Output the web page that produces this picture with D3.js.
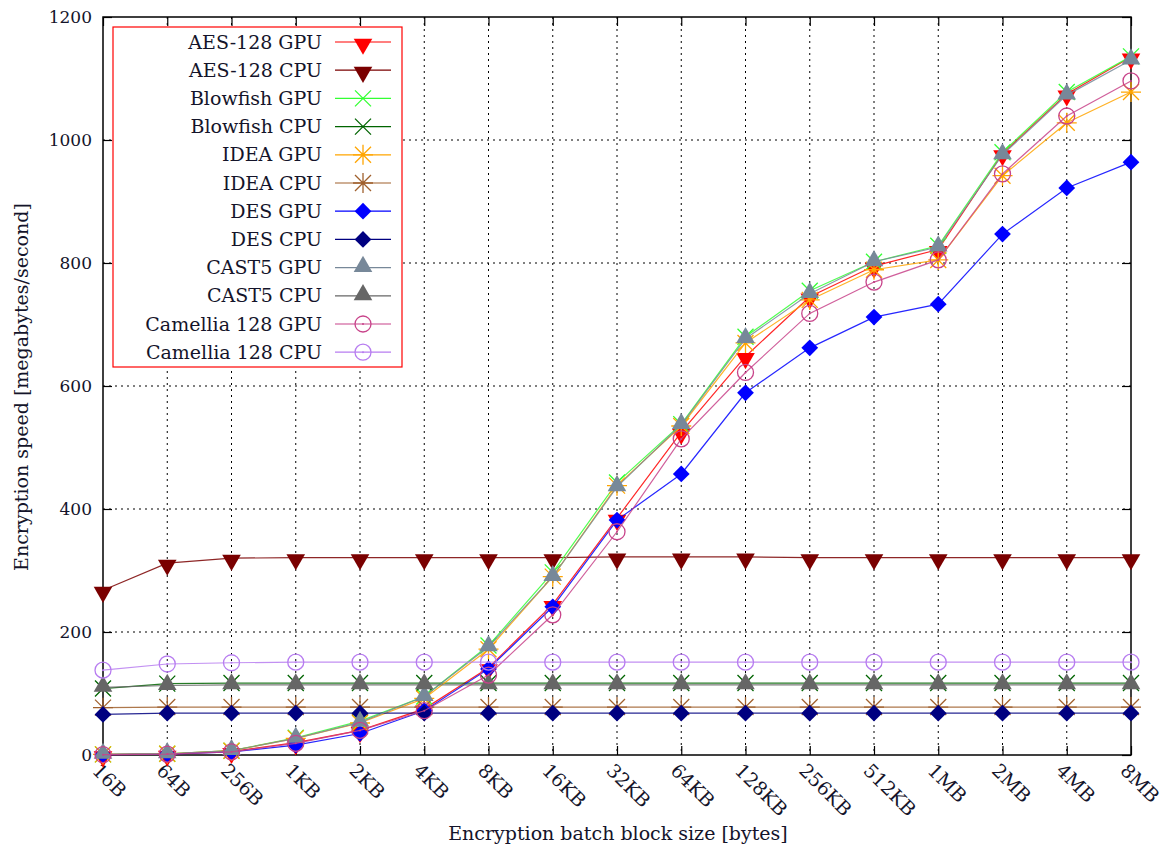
<!DOCTYPE html>
<meta charset="utf-8">
<style>
body { margin: 0; background: white; }
text { font-family: "DejaVu Serif", "Liberation Serif", serif; fill: #14142a; }
.grid line { stroke: black; stroke-width: 1; stroke-dasharray: 2,4; }
</style>
<body>
<script src="https://d3js.org/d3.v7.min.js"></script>
<script>
var width = 1174,
    height = 852;

// block sizes on the x axis
var sizes = ["16B","64B","256B","1KB","2KB","4KB","8KB","16KB","32KB","64KB","128KB","256KB","512KB","1MB","2MB","4MB","8MB"];
var yTicks = [0, 200, 400, 600, 800, 1000, 1200];

// speeds in megabytes/second
var aesGpu      = [0.5, 1.5, 6, 20, 40, 75, 142, 245, 385, 525, 648, 745, 795, 822, 978, 1075, 1135];
var aesCpu      = [268, 312, 320, 321, 321, 321, 321, 321, 322, 322, 322, 321, 321, 321, 321, 321, 321];
var blowfishGpu = [1, 2, 7, 28, 55, 95, 178, 297, 443, 538, 680, 755, 802, 828, 980, 1078, 1136];
var blowfishCpu = [108, 116, 117, 117, 117, 117, 117, 117, 117, 117, 117, 117, 117, 117, 117, 117, 117];
var ideaGpu     = [1, 2, 7, 27, 52, 92, 172, 290, 438, 535, 670, 740, 789, 805, 942, 1028, 1078];
var ideaCpu     = [77, 78, 78, 78, 78, 78, 78, 78, 78, 78, 78, 78, 78, 78, 78, 78, 78];
var desGpu      = [0.5, 1.5, 5, 16, 35, 72, 140, 241, 382, 457, 589, 662, 712, 733, 847, 922, 964];
var desCpu      = [66, 68, 68, 68, 68, 68, 68, 68, 68, 68, 68, 68, 68, 68, 68, 68, 68];
var cast5Gpu    = [1, 2, 7, 27, 53, 95, 176, 290, 436, 537, 677, 750, 802, 826, 976, 1073, 1130];
var cast5Cpu    = [110, 113, 114, 114, 114, 114, 114, 114, 114, 114, 114, 114, 114, 114, 114, 114, 114];
var camelliaGpu = [0.5, 1.5, 5, 19, 40, 72, 130, 228, 363, 514, 622, 718, 769, 805, 945, 1039, 1096];
var camelliaCpu = [138, 148, 150, 151, 151, 151, 151, 151, 151, 151, 151, 151, 151, 151, 151, 151, 151];

var names   = ["AES-128 GPU","AES-128 CPU","Blowfish GPU","Blowfish CPU","IDEA GPU","IDEA CPU","DES GPU","DES CPU","CAST5 GPU","CAST5 CPU","Camellia 128 GPU","Camellia 128 CPU"];
var values  = [aesGpu, aesCpu, blowfishGpu, blowfishCpu, ideaGpu, ideaCpu, desGpu, desCpu, cast5Gpu, cast5Cpu, camelliaGpu, camelliaCpu];
var colors  = ["#ff0000","#7a0000","#33ff33","#006400","#ffa500","#a0602d","#0000ff","#000080","#778899","#666666","#c8438a","#b77cf0"];
var markers = ["tri","tri","x","x","star","star","dia","dia","up","up","circ","circ"];

var pLeft = 103, pRight = 1131, pTop = 17, pBottom = 755;

var x = d3.scalePoint().domain(sizes).range([pLeft, pRight]);
var y = d3.scaleLinear().domain([0, 1200]).range([pBottom, pTop]);

var svg = d3.select("body").append("svg")
    .attr("width", width)
    .attr("height", height);

// grid
var grid = svg.append("g").attr("class", "grid");
grid.selectAll(".gx").data(sizes.slice(1, -1)).enter().append("line")
    .attr("x1", d => x(d)).attr("x2", d => x(d))
    .attr("y1", pTop).attr("y2", pBottom);
grid.selectAll(".gy").data(yTicks.slice(1, -1)).enter().append("line")
    .attr("x1", pLeft).attr("x2", pRight)
    .attr("y1", d => y(d)).attr("y2", d => y(d));

// ticks, inside, on all four sides
svg.append("g").attr("transform", "translate(0," + pBottom + ")")
    .call(d3.axisTop(x).tickSize(9).tickFormat(""))
    .call(g => g.select(".domain").remove());
svg.append("g").attr("transform", "translate(0," + pTop + ")")
    .call(d3.axisBottom(x).tickSize(9).tickFormat(""))
    .call(g => g.select(".domain").remove());
svg.append("g").attr("transform", "translate(" + pLeft + ",0)")
    .call(d3.axisRight(y).tickValues(yTicks).tickSize(9).tickFormat(""))
    .call(g => g.select(".domain").remove());
svg.append("g").attr("transform", "translate(" + pRight + ",0)")
    .call(d3.axisLeft(y).tickValues(yTicks).tickSize(9).tickFormat(""))
    .call(g => g.select(".domain").remove());
svg.selectAll(".tick line").attr("stroke", "black").attr("stroke-width", 1.2);

svg.append("rect")
    .attr("x", pLeft).attr("y", pTop)
    .attr("width", pRight - pLeft).attr("height", pBottom - pTop)
    .attr("fill", "none").attr("stroke", "black").attr("stroke-width", 1.5);

// tick labels
svg.selectAll(".ylab").data(yTicks).enter().append("text")
    .attr("x", pLeft - 11).attr("y", d => y(d))
    .attr("dy", "0.35em")
    .attr("text-anchor", "end")
    .style("font-size", "17px")
    .text(d => d);

svg.selectAll(".xlab").data(sizes).enter().append("text")
    .attr("transform", d => "translate(" + (x(d) - 7) + "," + (pBottom + 12) + ") rotate(45)")
    .attr("dy", "0.35em")
    .style("font-size", "19px")
    .text(d => d);

svg.append("text")
    .attr("x", (pLeft + pRight) / 2 + 1).attr("y", 840)
    .attr("text-anchor", "middle")
    .style("font-size", "19px")
    .text("Encryption batch block size [bytes]");

svg.append("text")
    .attr("transform", "translate(28," + ((pTop + pBottom) / 2 + 1) + ") rotate(-90)")
    .attr("text-anchor", "middle")
    .style("font-size", "19px")
    .text("Encryption speed [megabytes/second]");

// marker drawing
function drawMarker(g, type, color) {
  if (type == "tri" || type == "up") {
    g.append("path")
      .attr("d", d3.symbol().type(d3.symbolTriangle).size(150)())
      .attr("transform", type == "tri" ? "rotate(180) translate(0,-2)" : "translate(0,-1)")
      .attr("fill", color);
  } else if (type == "dia") {
    g.append("path")
      .attr("d", d3.symbol().type(d3.symbolSquare).size(140)())
      .attr("transform", "rotate(45)")
      .attr("fill", color);
  } else if (type == "x") {
    g.append("path").attr("d", "M-8,-8L8,8M-8,8L8,-8")
      .attr("stroke", color).attr("stroke-width", 1.3);
  } else if (type == "star") {
    g.append("path").attr("d", "M-8,-8L8,8M-8,8L8,-8M0,-10L0,10M-10,0L10,0")
      .attr("stroke", color).attr("stroke-width", 1.3);
  } else if (type == "circ") {
    g.append("circle").attr("r", 8)
      .attr("fill", "none").attr("stroke", color).attr("stroke-width", 1.3);
    g.append("circle").attr("r", 1).attr("fill", color);
  }
}

var line = d3.line()
    .x((d, i) => x(sizes[i]))
    .y(d => y(d));

values.forEach(function(vals, k) {
  var s = svg.append("g");
  s.append("path")
    .attr("d", line(vals))
    .attr("fill", "none")
    .attr("stroke", colors[k])
    .attr("stroke-width", 1.2)
    .attr("stroke-opacity", 0.85);
  vals.forEach(function(v, i) {
    var m = s.append("g").attr("transform", "translate(" + x(sizes[i]) + "," + y(v) + ")");
    drawMarker(m, markers[k], colors[k]);
  });
});

// legend
var lg = svg.append("g");
lg.append("rect")
    .attr("x", 113).attr("y", 27)
    .attr("width", 289).attr("height", 340)
    .attr("fill", "white").attr("stroke", "red").attr("stroke-width", 1.2);
names.forEach(function(n, k) {
  var ly = 42 + k * 28.2;
  lg.append("text")
    .attr("x", 322).attr("y", ly)
    .attr("dy", "0.35em")
    .attr("text-anchor", "end")
    .style("font-size", "19px")
    .text(n);
  lg.append("line")
    .attr("x1", 335).attr("x2", 391)
    .attr("y1", ly).attr("y2", ly)
    .attr("stroke", colors[k]).attr("stroke-width", 1.2);
  drawMarker(lg.append("g").attr("transform", "translate(363," + ly + ")"), markers[k], colors[k]);
});
</script>
</body>
</html>
